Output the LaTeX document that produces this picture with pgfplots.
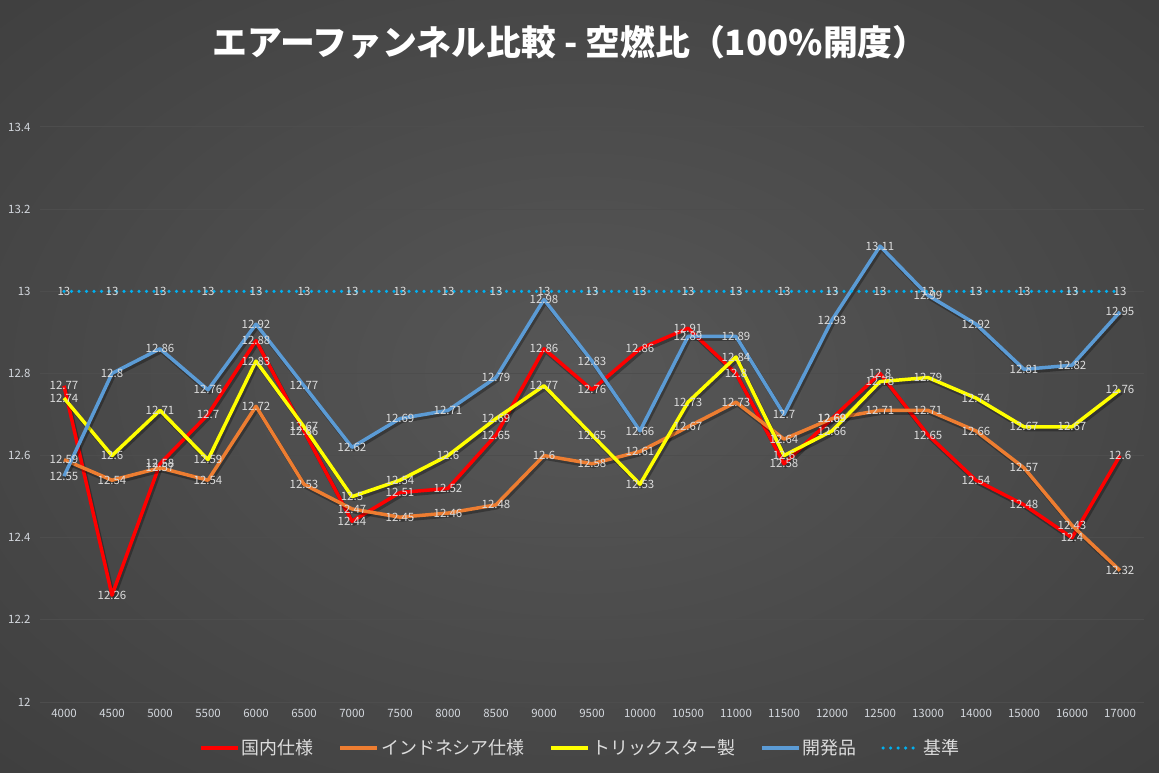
\documentclass[border=0pt]{standalone}
\usepackage{fontspec}
\setmainfont{Noto Sans CJK JP}
\usepackage{pgfplots}
\usepackage{pgfplotstable}
\pgfplotsset{compat=1.18}
\definecolor{bgin}{HTML}{575757}
\definecolor{bgmid}{HTML}{3A3A3A}
\definecolor{bgout}{HTML}{1F1F1F}
\definecolor{gridc}{HTML}{4D4D4D}
\definecolor{tickc}{HTML}{D4D8DE}
\definecolor{labc}{HTML}{DCDCDC}
\definecolor{sred}{HTML}{FF0000}
\definecolor{sorange}{HTML}{ED7D31}
\definecolor{syellow}{HTML}{FFFF00}
\definecolor{sblue}{HTML}{5B9BD5}
\definecolor{scyan}{HTML}{00B0F0}
\pgfdeclareradialshading{bgshade}{\pgfpoint{0bp}{0bp}}{color(0bp)=(bgin); color(30bp)=(bgmid); color(50bp)=(bgout)}

\pgfplotstableread{
idx kok ind tri kai kij
0  12.77 12.59 12.74 12.55 13
1  12.26 12.54 12.6  12.8  13
2  12.58 12.57 12.71 12.86 13
3  12.7  12.54 12.59 12.76 13
4  12.88 12.72 12.83 12.92 13
5  12.66 12.53 12.67 12.77 13
6  12.44 12.47 12.5  12.62 13
7  12.51 12.45 12.54 12.69 13
8  12.52 12.46 12.6  12.71 13
9  12.65 12.48 12.69 12.79 13
10 12.86 12.6  12.77 12.98 13
11 12.76 12.58 12.65 12.83 13
12 12.86 12.61 12.53 12.66 13
13 12.91 12.67 12.73 12.89 13
14 12.8  12.73 12.84 12.89 13
15 12.58 12.64 12.6  12.7  13
16 12.69 12.69 12.66 12.93 13
17 12.8  12.71 12.78 13.11 13
18 12.65 12.71 12.79 12.99 13
19 12.54 12.66 12.74 12.92 13
20 12.48 12.57 12.67 12.81 13
21 12.4  12.43 12.67 12.82 13
22 12.6  12.32 12.76 12.95 13
}\data

\begin{document}
\begin{tikzpicture}[x=1bp,y=1bp]
\begin{scope}
\clip (0bp,0bp) rectangle (1159bp,773bp);
\shade[shading=bgshade] (579.5bp,400bp) ellipse (830bp and 560bp);
\end{scope}
\node[font=\bfseries\fontsize{35}{38}\selectfont, text=white] at (570bp,731bp) {エアーファンネル比較 - 空燃比（100\%開度）};
\begin{axis}[
  at={(40bp,71bp)}, anchor=south west,
  scale only axis, width=1104bp, height=575bp,
  xmin=-0.5, xmax=22.5, ymin=12, ymax=13.4,
  xtick={0,...,22},
  xticklabels={4000,4500,5000,5500,6000,6500,7000,7500,8000,8500,9000,9500,10000,10500,11000,11500,12000,12500,13000,14000,15000,16000,17000},
  ytick={12,12.2,12.4,12.6,12.8,13,13.2,13.4},
  yticklabels={12,12.2,12.4,12.6,12.8,13,13.2,13.4},
  ymajorgrids, major grid style={gridc, line width=1bp},
  axis line style={draw=none},
  major tick length=0pt,
  tick label style={font=\fontsize{11.5}{13}\selectfont, text=tickc},
  yticklabel style={xshift=-6bp},
  xticklabel style={yshift=-4bp},
  /pgf/number format/assume math mode=true,
  legend columns=5,
  legend style={at={(axis description cs:0.4897,-0.08)}, anchor=center, draw=none, fill=none,
    font=\fontsize{18}{20}\selectfont, text=labc,
    nodes={inner sep=2bp},
    /tikz/every even column/.append style={column sep=23bp}},
  legend image code/.code={\draw[#1] (0bp,0bp) -- (37bp,0bp);},
  every node near coord/.append style={anchor=center, font=\fontsize{11.5}{13}\selectfont, text=labc, inner sep=0pt},
  shadow/.style={black, opacity=0.3, line width=4bp, line join=round, no markers, forget plot, transform canvas={shift={(1.5bp,-2.5bp)}}},
]
\addplot[shadow] table[x=idx,y=kok]{\data};
\addplot[sred, line width=3.5bp, line join=round, no markers] table[x=idx,y=kok]{\data};
\addlegendentry{国内仕様}
\addplot[shadow] table[x=idx,y=ind]{\data};
\addplot[sorange, line width=3.5bp, line join=round, no markers] table[x=idx,y=ind]{\data};
\addlegendentry{インドネシア仕様}
\addplot[shadow] table[x=idx,y=tri]{\data};
\addplot[syellow, line width=3.5bp, line join=round, no markers] table[x=idx,y=tri]{\data};
\addlegendentry{トリックスター製}
\addplot[shadow] table[x=idx,y=kai]{\data};
\addplot[sblue, line width=3.5bp, line join=round, no markers] table[x=idx,y=kai]{\data};
\addlegendentry{開発品}
\addplot[scyan, line width=3.5bp, line cap=round, dash pattern=on 0bp off 7.5bp, no markers] table[x=idx,y=kij]{\data};
\addlegendentry{基準}
\addplot[draw=none, no markers, forget plot, nodes near coords] table[x=idx,y=kok]{\data};
\addplot[draw=none, no markers, forget plot, nodes near coords] table[x=idx,y=ind]{\data};
\addplot[draw=none, no markers, forget plot, nodes near coords] table[x=idx,y=tri]{\data};
\addplot[draw=none, no markers, forget plot, nodes near coords] table[x=idx,y=kai]{\data};
\addplot[draw=none, no markers, forget plot, nodes near coords] table[x=idx,y=kij]{\data};
\end{axis}
\pgfresetboundingbox
\useasboundingbox (0bp,0bp) rectangle (1159bp,773bp);
\end{tikzpicture}
\end{document}
